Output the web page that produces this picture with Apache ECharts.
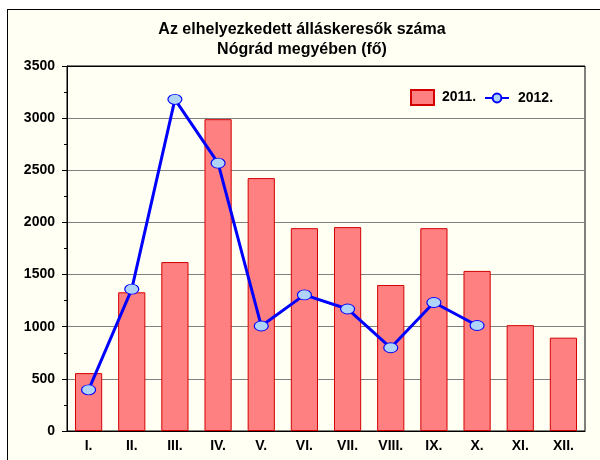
<!DOCTYPE html>
<html>
<head>
<meta charset="utf-8">
<script src="https://cdn.jsdelivr.net/npm/echarts@6/dist/echarts.min.js"></script>
<style>
  html, body { margin: 0; padding: 0; background: #fff; }
  #wrap { position: relative; width: 600px; height: 460px; overflow: hidden; background: #fff; }
  #frame { position: absolute; left: 7px; top: 9px; width: 620px; height: 480px;
           border-left: 1px solid #000; border-top: 1px solid #000; background: #FFFFF3; }
  #chart { position: absolute; left: 0; top: 0; width: 600px; height: 460px; }
</style>
</head>
<body>
<div id="wrap">
  <div id="frame"></div>
  <div id="chart"></div>
</div>
<script>
// adatok
var months = ["I.", "II.", "III.", "IV.", "V.", "VI.", "VII.", "VIII.", "IX.", "X.", "XI.", "XII."];
var data2011 = [555, 1330, 1620, 2990, 2425, 1945, 1955, 1400, 1945, 1535, 1015, 895];
var data2012 = [395, 1360, 3180, 2568, 1007, 1305, 1170, 798, 1232, 1012];

var fontFam = "Arial, 'Liberation Sans', sans-serif";

var chart = echarts.init(document.getElementById("chart"));
chart.setOption({
  animation: false,
  backgroundColor: "transparent",
  textStyle: { fontFamily: fontFam },
  title: {
    text: "Az elhelyezkedett álláskeresők száma\nNógrád megyében (fő)",
    left: 297,
    textAlign: "center",
    top: 15,
    textStyle: { fontFamily: fontFam, fontSize: 16, fontWeight: "bold", color: "#000", lineHeight: 20 }
  },
  legend: [
    {
      data: [{ name: "2011.", icon: "rect" }],
      left: 410,
      top: 89,
      padding: 0,
      itemWidth: 23,
      itemHeight: 15,
      textStyle: { fontFamily: fontFam, fontSize: 14, fontWeight: "bold", color: "#000", padding: [0, 0, 0, 3] }
    },
    {
      data: ["2012."],
      left: 484,
      top: 91,
      padding: 0,
      itemWidth: 24,
      itemHeight: 11,
      textStyle: { fontFamily: fontFam, fontSize: 14, fontWeight: "bold", color: "#000", padding: [0, 0, 0, 4] }
    }
  ],
  grid: {
    left: 67,
    right: 15,
    top: 66,
    bottom: 29,
    show: true,
    borderColor: "#000",
    borderWidth: 1,
    backgroundColor: "transparent"
  },
  xAxis: {
    type: "category",
    data: months,
    axisLine: { lineStyle: { color: "#000", width: 1 } },
    axisTick: { show: false },
    axisLabel: { color: "#000", fontFamily: fontFam, fontSize: 14, fontWeight: "bold", margin: 8 }
  },
  yAxis: {
    type: "value",
    min: 0,
    max: 3500,
    interval: 500,
    axisLine: { show: true, lineStyle: { color: "#000", width: 1 } },
    axisTick: { show: true, length: 5, lineStyle: { color: "#000" } },
    minorTick: { show: true, splitNumber: 2, length: 3, lineStyle: { color: "#000" } },
    axisLabel: {
      color: "#000", fontFamily: fontFam, fontSize: 14, fontWeight: "bold", margin: 12,
      formatter: function (v) { return String(v); }
    },
    splitLine: {
      show: true,
      lineStyle: { color: ["#000", "#808080", "#808080", "#808080", "#808080", "#808080", "#808080", "#000"], width: 1 }
    }
  },
  series: [
    {
      name: "2011.",
      type: "bar",
      data: data2011,
      barCategoryGap: "37%",
      itemStyle: { color: "#FF8080", borderColor: "#D40000", borderWidth: 1 }
    },
    {
      name: "2012.",
      type: "line",
      data: data2012,
      symbol: "circle",
      symbolSize: [14, 10],
      showAllSymbol: true,
      lineStyle: { color: "#0000FF", width: 3 },
      itemStyle: { color: "#B0D4F8", borderColor: "#0000FF", borderWidth: 1 },
      z: 5
    }
  ]
});
</script>
</body>
</html>
